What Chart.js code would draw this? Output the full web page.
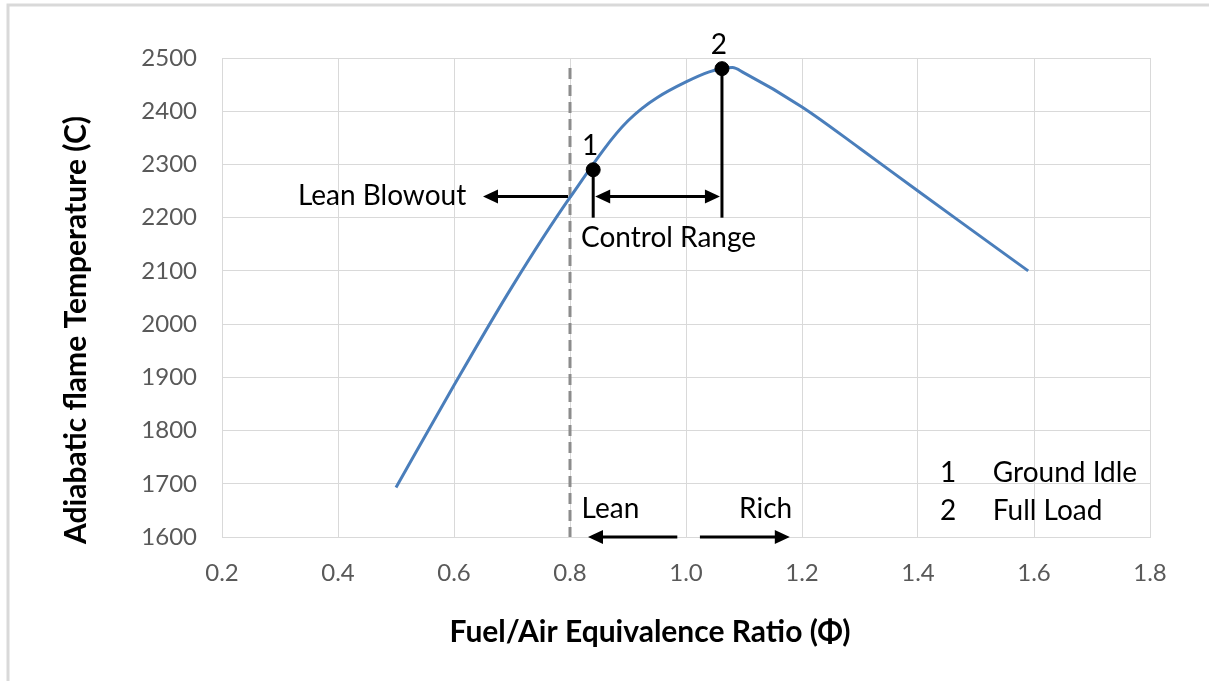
<!DOCTYPE html>
<html>
<head>
<meta charset="utf-8">
<script src="https://cdn.jsdelivr.net/npm/chart.js@4.4.0/dist/chart.umd.min.js"></script>
<style>
  html, body { margin: 0; padding: 0; background: #fff; }
  #wrap { width: 1209px; height: 681px; }
</style>
</head>
<body>
<div id="wrap"><canvas id="chart"></canvas></div>
<script>
// curve
const phi = [0.5, 0.6, 0.7, 0.8, 0.9, 1.0, 1.08, 1.1, 1.2, 1.3, 1.4, 1.5, 1.59];
const flameTemp = [1693, 1885, 2070, 2238, 2382, 2455, 2482, 2472, 2408, 2330, 2250, 2171, 2100];

// operating points
const opPhi = [0.84, 1.062];
const opTemp = [2290, 2480];
const opLabels = ['1', '2'];
const opNames = ['Ground Idle', 'Full Load'];

// axes
const xTicks = [0.2, 0.4, 0.6, 0.8, 1.0, 1.2, 1.4, 1.6, 1.8];
const yTicks = [1600, 1700, 1800, 1900, 2000, 2100, 2200, 2300, 2400, 2500];
const xTitle = 'Fuel/Air Equivalence Ratio (\u03A6)';
const yTitle = 'Adiabatic flame Temperature (C)';

// annotation values
const leanBlowoutPhi = 0.8;
const dropToTemp = 2200;
const arrowTemp = 2240;
const leanArrow = [0.985, 0.831];
const richArrow = [1.024, 1.179];

const FONT = 'Lato, "Open Sans", sans-serif';

function arrowHead(ctx, x, y, dir) {
  // dir: -1 points left, 1 points right
  ctx.beginPath();
  ctx.moveTo(x, y);
  ctx.lineTo(x - dir * 15, y - 7);
  ctx.lineTo(x - dir * 15, y + 7);
  ctx.closePath();
  ctx.fill();
}

function hLine(ctx, x1, x2, y) {
  ctx.beginPath();
  ctx.moveTo(x1, y);
  ctx.lineTo(x2, y);
  ctx.stroke();
}

const annotations = {
  id: 'annotations',
  beforeDraw(chart) {
    const ctx = chart.ctx;
    ctx.save();
    ctx.fillStyle = '#fff';
    ctx.fillRect(0, 0, chart.width, chart.height);
    // outer frame (left and top only, like the cropped screenshot)
    ctx.strokeStyle = '#d9d9d9';
    ctx.lineWidth = 3;
    ctx.beginPath();
    ctx.moveTo(8, chart.height);
    ctx.lineTo(8, 5);
    ctx.lineTo(chart.width, 5);
    ctx.stroke();

    // axis titles (moved off-centre in the original)
    ctx.fillStyle = '#000';
    ctx.font = 'bold 30px ' + FONT;
    ctx.textAlign = 'center';
    ctx.textBaseline = 'middle';
    ctx.fillText(xTitle, 650, 632);
    ctx.translate(76, 330);
    ctx.rotate(-Math.PI / 2);
    ctx.fillText(yTitle, 0, 0);
    ctx.restore();
  },
  beforeDatasetsDraw(chart) {
    const ctx = chart.ctx;
    const x = chart.scales.x, y = chart.scales.y;
    ctx.save();
    // dashed lean blowout line
    ctx.strokeStyle = '#8c8c8c';
    ctx.lineWidth = 3;
    ctx.setLineDash([11, 6]);
    ctx.beginPath();
    ctx.moveTo(x.getPixelForValue(leanBlowoutPhi), y.getPixelForValue(2481));
    ctx.lineTo(x.getPixelForValue(leanBlowoutPhi), y.getPixelForValue(1600));
    ctx.stroke();
    ctx.restore();
  },
  afterDatasetsDraw(chart) {
    const ctx = chart.ctx;
    const x = chart.scales.x, y = chart.scales.y;
    ctx.save();
    ctx.strokeStyle = '#000';
    ctx.fillStyle = '#000';
    ctx.lineWidth = 3;

    // drop lines from operating points
    opPhi.forEach((p, i) => {
      const px = x.getPixelForValue(p);
      ctx.beginPath();
      ctx.moveTo(px, y.getPixelForValue(opTemp[i]));
      ctx.lineTo(px, y.getPixelForValue(dropToTemp));
      ctx.stroke();
    });

    // control range double arrow
    const ay = y.getPixelForValue(arrowTemp);
    const c1 = x.getPixelForValue(opPhi[0]) + 2, c2 = x.getPixelForValue(opPhi[1]) - 2;
    hLine(ctx, c1 + 10, c2 - 10, ay);
    arrowHead(ctx, c1, ay, -1);
    arrowHead(ctx, c2, ay, 1);

    // lean blowout arrow
    const lb1 = x.getPixelForValue(leanBlowoutPhi) - 2, lb2 = x.getPixelForValue(0.65);
    hLine(ctx, lb1, lb2 + 10, ay);
    arrowHead(ctx, lb2, ay, -1);

    // lean / rich arrows on the axis
    const by = y.getPixelForValue(1600);
    hLine(ctx, x.getPixelForValue(leanArrow[0]), x.getPixelForValue(leanArrow[1]) + 10, by);
    arrowHead(ctx, x.getPixelForValue(leanArrow[1]), by, -1);
    hLine(ctx, x.getPixelForValue(richArrow[0]), x.getPixelForValue(richArrow[1]) - 10, by);
    arrowHead(ctx, x.getPixelForValue(richArrow[1]), by, 1);

    // texts
    ctx.font = '28px ' + FONT;
    ctx.textBaseline = 'middle';
    ctx.textAlign = 'right';
    ctx.fillText('Lean Blowout', x.getPixelForValue(0.621), ay);
    ctx.textAlign = 'left';
    ctx.fillText('Control Range', x.getPixelForValue(0.819), y.getPixelForValue(2162));
    ctx.fillText('Lean', x.getPixelForValue(0.82), y.getPixelForValue(1653));
    ctx.textAlign = 'right';
    ctx.fillText('Rich', x.getPixelForValue(1.183), y.getPixelForValue(1653));

    ctx.textAlign = 'center';
    opLabels.forEach((t, i) => {
      ctx.fillText(t, x.getPixelForValue(opPhi[i]) - 3, y.getPixelForValue(opTemp[i]) - 24);
    });

    // key in the lower right
    opLabels.forEach((t, i) => {
      const ty = y.getPixelForValue(1721 - i * 72);
      ctx.textAlign = 'center';
      ctx.fillText(t, x.getPixelForValue(1.452), ty);
      ctx.textAlign = 'left';
      ctx.fillText(opNames[i], x.getPixelForValue(1.529), ty);
    });
    ctx.restore();
  }
};

new Chart(document.getElementById('chart'), {
  type: 'scatter',
  data: {
    datasets: [
      {
        label: 'Adiabatic flame temperature',
        data: phi.map((p, i) => ({ x: p, y: flameTemp[i] })),
        showLine: true,
        borderColor: '#4a7ebb',
        borderWidth: 3,
        pointRadius: 0,
        cubicInterpolationMode: 'monotone',
        order: 2
      },
      {
        label: 'Operating points',
        data: opPhi.map((p, i) => ({ x: p, y: opTemp[i] })),
        showLine: false,
        pointRadius: 7,
        pointBackgroundColor: '#000',
        pointBorderColor: '#000',
        order: 1
      }
    ]
  },
  options: {
    responsive: true,
    maintainAspectRatio: false,
    animation: false,
    layout: { padding: { top: 58, right: 59, left: 0, bottom: 0 } },
    plugins: { legend: { display: false }, tooltip: { enabled: false } },
    scales: {
      x: {
        type: 'linear',
        min: 0.2, max: 1.8,
        afterBuildTicks: s => { s.ticks = xTicks.map(v => ({ value: v })); },
        afterFit: s => { s.height = 144; },
        grid: { color: '#d9d9d9', lineWidth: 1, drawTicks: false },
        border: { color: '#d9d9d9', width: 1 },
        ticks: {
          padding: 22,
          color: '#595959',
          font: { family: FONT, size: 24 },
          callback: v => v.toFixed(1)
        }
      },
      y: {
        min: 1600, max: 2500,
        afterBuildTicks: s => { s.ticks = yTicks.map(v => ({ value: v })); },
        afterFit: s => { s.width = 222; },
        grid: { color: '#d9d9d9', lineWidth: 1, drawTicks: false },
        border: { color: '#d9d9d9', width: 1 },
        ticks: {
          padding: 25,
          color: '#595959',
          font: { family: FONT, size: 24 },
          callback: v => String(v)
        }
      }
    }
  },
  plugins: [annotations]
});
</script>
</body>
</html>
